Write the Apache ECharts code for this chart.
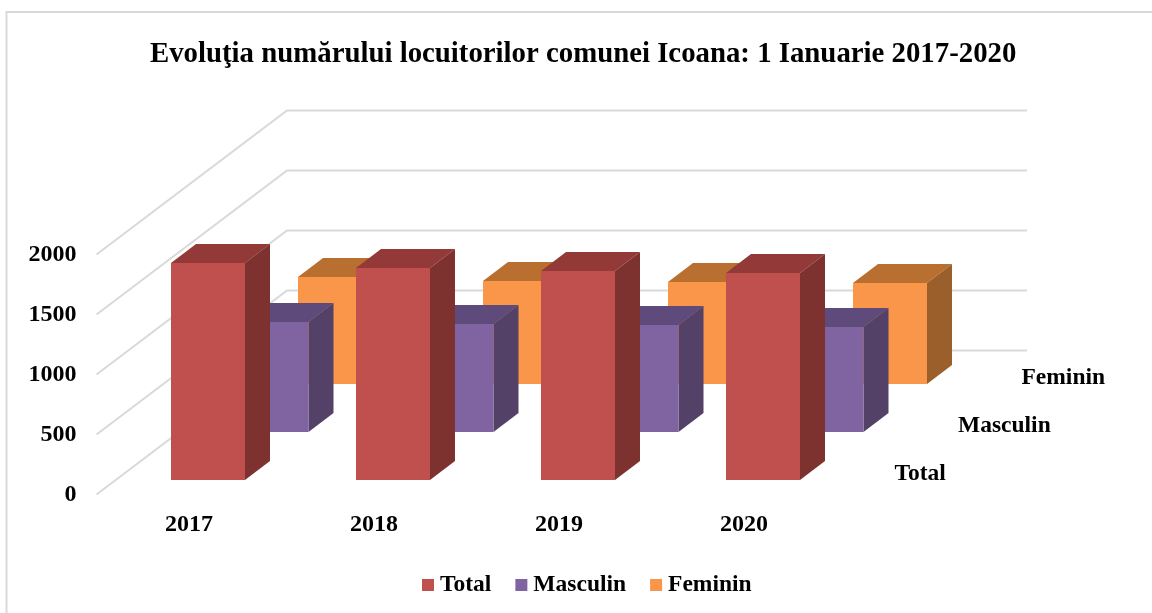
<!DOCTYPE html>
<html><head><meta charset="utf-8">
<style>html,body{margin:0;padding:0;background:#fff}#c{width:1152px;height:613px}</style>
<script src="https://cdn.jsdelivr.net/npm/echarts@6/dist/echarts.min.js"></script>
</head><body><div id="c"></div>
<script>
const titleText = 'Evoluţia numărului locuitorilor comunei Icoana: 1 Ianuarie 2017-2020';
const years = ['2017','2018','2019','2020'];
const yTicks = [0,500,1000,1500,2000];
const totalValues = [1808,1767,1742,1725];
const masculinValues = [917,900,892,875];
const femininValues = [892,858,850,842];
const depthNames = ['Total','Masculin','Feminin'];

const FONT = '"Liberation Serif","Times New Roman",serif';
const ROW_DX = 63.5, ROW_DY = 48, ROWS = 3;      // oblique step per depth row
const BAR_W = 74, BAR_DX = 25, BAR_DY = 19;      // bar width and bar depth
const FRONT_DX = 19, FRONT_DY = 14.5;            // margin from the row front to the bar

const palette = {
  Total:    {front:'#C0504D', top:'#933A38', side:'#7E3230'},
  Masculin: {front:'#8064A2', top:'#5F4B7B', side:'#534168'},
  Feminin:  {front:'#F9964A', top:'#B96F30', side:'#9B5F2B'}
};

function barSeries(name, row, values, z){
  const c = palette[name];
  return {
    name, type:'custom', z,
    data: values.map((v,i)=>[i,v]),
    itemStyle:{color:c.front},
    encode:{x:0,y:1},
    renderItem(params, api){
      const b = api.coord([api.value(0),0]);
      const t = api.coord([api.value(0),api.value(1)]);
      const x0 = b[0]-BAR_W/2+FRONT_DX+row*ROW_DX, x1 = x0+BAR_W;
      const off = FRONT_DY+row*ROW_DY;
      const yb = b[1]-off, yt = t[1]-off;
      const poly = (pts,color)=>({type:'polygon',shape:{points:pts},style:{fill:color}});
      return {type:'group',children:[
        poly([[x0,yt],[x1,yt],[x1+BAR_DX,yt-BAR_DY],[x0+BAR_DX,yt-BAR_DY]],c.top),
        poly([[x1,yt],[x1+BAR_DX,yt-BAR_DY],[x1+BAR_DX,yb-BAR_DY],[x1,yb]],c.side),
        poly([[x0,yt],[x1,yt],[x1,yb],[x0,yb]],c.front)
      ]};
    }
  };
}

const wallSeries = {
  name:'wall', type:'custom', z:1, silent:true,
  data: yTicks.map(v=>[0,v]),
  encode:{x:0,y:1},
  renderItem(params, api){
    const p = api.coord([0,api.value(1)]);
    const w = api.size([1,0])[0];
    const fx = p[0]-w/2, fy = p[1];
    const bx = fx+ROWS*ROW_DX, by = fy-ROWS*ROW_DY;
    return {type:'polyline',shape:{points:[[fx,fy],[bx,by],[bx+w*years.length,by]]},
      style:{stroke:'#D9D9D9',lineWidth:2,fill:null}};
  }
};

const depthLabelSeries = {
  name:'depth', type:'custom', z:5, silent:true,
  data: depthNames.map((n,i)=>[years.length-1,i]),
  encode:{x:0},
  renderItem(params, api){
    const row = api.value(1);
    const b = api.coord([years.length-1,0]);
    const w = api.size([1,0])[0];
    return {type:'text',style:{
      text:depthNames[row],
      x:b[0]+w/2+58+row*ROW_DX, y:b[1]-21-row*ROW_DY,
      font:'bold 23.5px '+FONT, fill:'#000', textAlign:'left', textVerticalAlign:'middle'}};
  }
};

const chart = echarts.init(document.getElementById('c'),null,{renderer:'canvas'});
chart.setOption({
  animation:false,
  backgroundColor:'#fff',
  graphic:[{type:'polyline',silent:true,z:-1,
    shape:{points:[[6.5,613],[6.5,12],[1152,12]]},
    style:{stroke:'#D9D9D9',lineWidth:2,fill:null}}],
  title:{text:titleText,left:145,top:35,
    textStyle:{fontFamily:FONT,fontWeight:'bold',fontSize:28.8,color:'#000'}},
  legend:{data:depthNames,left:422,top:573,padding:0,itemWidth:12,itemHeight:12,itemGap:24,icon:'rect',
    textStyle:{fontFamily:FONT,fontWeight:'bold',fontSize:23.5,color:'#000',padding:[0,0,0,1]}},
  grid:{left:96.5,width:740,top:254.5,height:240,containLabel:false},
  xAxis:{type:'category',data:years,axisLine:{show:false},axisTick:{show:false},splitLine:{show:false},
    axisLabel:{margin:18,fontFamily:FONT,fontWeight:'bold',fontSize:24,color:'#000'}},
  yAxis:{type:'value',min:0,max:2000,interval:500,axisLine:{show:false},axisTick:{show:false},splitLine:{show:false},
    axisLabel:{margin:20,formatter:v=>String(v),fontFamily:FONT,fontWeight:'bold',fontSize:24,color:'#000'}},
  series:[
    wallSeries,
    barSeries('Feminin',2,femininValues,2),
    barSeries('Masculin',1,masculinValues,3),
    barSeries('Total',0,totalValues,4),
    depthLabelSeries
  ]
});
</script></body></html>
